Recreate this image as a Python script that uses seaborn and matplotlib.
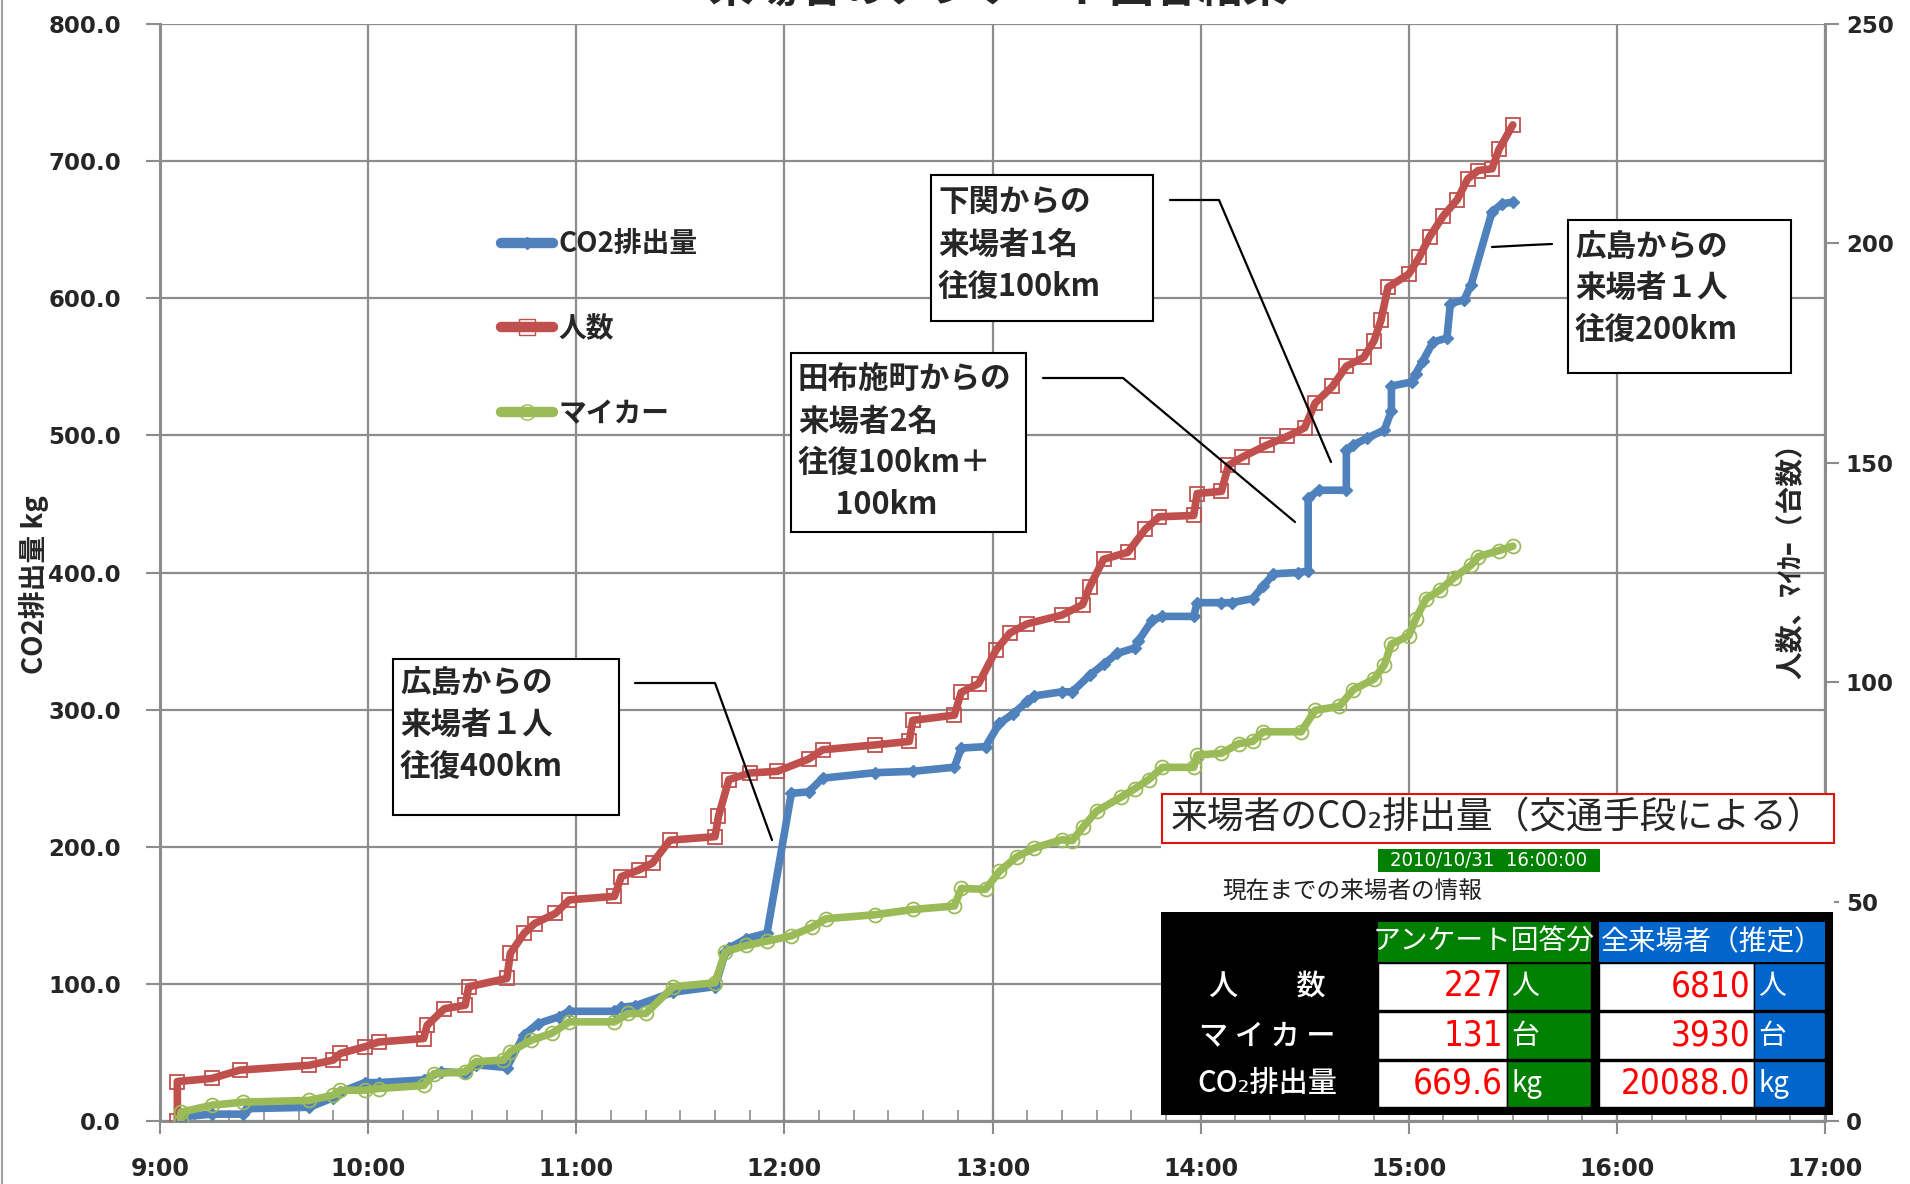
import matplotlib
matplotlib.use('Agg')
import matplotlib.pyplot as plt
import seaborn as sns
import pandas as pd
from matplotlib.patches import Rectangle
from matplotlib.lines import Line2D
from matplotlib.ticker import MultipleLocator

# --- data ---
co2_time = ['9:06', '9:06', '9:15', '9:24', '9:25', '9:43', '9:50', '9:52', '9:59', '10:03',
            '10:16', '10:21', '10:28', '10:31', '10:40', '10:45', '10:49', '10:55', '10:58', '11:11',
            '11:13', '11:17', '11:28', '11:40', '11:43', '11:44', '11:49', '11:55', '12:02', '12:07',
            '12:11', '12:26', '12:37', '12:49', '12:51', '12:58', '13:02', '13:06', '13:10', '13:12',
            '13:20', '13:23', '13:28', '13:32', '13:36', '13:41', '13:42', '13:46', '13:49', '13:58',
            '13:59', '14:06', '14:09', '14:15', '14:18', '14:21', '14:28', '14:31', '14:31', '14:34',
            '14:42', '14:42', '14:44', '14:48', '14:53', '14:55', '14:55', '15:01', '15:02', '15:04',
            '15:07', '15:11', '15:12', '15:16', '15:18', '15:24', '15:27', '15:30']
co2_kg = [0, 3, 5, 5, 9, 10, 17, 21, 28, 28,
          30, 36, 35, 41, 39, 63, 71, 76, 80, 80,
          83, 84, 94, 98, 123, 126, 133, 137, 239, 240,
          250, 254, 255, 258, 272, 273, 290, 297, 306, 310,
          313, 313, 325, 333, 341, 345, 350, 365, 368, 368,
          378, 378, 378, 381, 390, 399, 400, 401, 454, 460,
          460, 489, 493, 498, 504, 518, 536, 539, 545, 554,
          568, 571, 596, 599, 610, 663, 669, 670]

people_time = ['9:05', '9:05', '9:15', '9:23', '9:43', '9:50', '9:52', '9:59', '10:03', '10:16',
               '10:17', '10:22', '10:28', '10:29', '10:40', '10:41', '10:45', '10:48', '10:54', '10:58',
               '11:11', '11:13', '11:18', '11:22', '11:27', '11:40', '11:41', '11:44', '11:50', '11:58',
               '12:07', '12:11', '12:26', '12:36', '12:37', '12:49', '12:51', '12:56', '13:01', '13:05',
               '13:10', '13:20', '13:26', '13:28', '13:32', '13:39', '13:44', '13:48', '13:58', '13:59',
               '14:06', '14:08', '14:12', '14:19', '14:25', '14:30', '14:33', '14:38', '14:42', '14:47',
               '14:50', '14:52', '14:54', '15:00', '15:03', '15:06', '15:10', '15:14', '15:17', '15:20',
               '15:24', '15:26', '15:30']
people_count = [0, 9, 9.7, 11.6, 12.7, 13.9, 15.4, 16.9, 18, 18.8,
                21.8, 25.6, 26.4, 30.6, 32.5, 38.2, 42.8, 45, 47.3, 50.4,
                51.2, 55.7, 57.2, 58.8, 64, 64.8, 69.4, 77.8, 79.3, 79.7,
                82.5, 84.6, 85.7, 86.5, 91.3, 92.5, 97.7, 99.7, 107.3, 111.2,
                113.3, 115.3, 117.7, 121.7, 128, 129.6, 134.8, 137.7, 138, 143,
                143.5, 149.4, 151.3, 154, 156, 158, 163.6, 167.4, 172, 174,
                177.8, 182.5, 190, 193, 196.8, 201.5, 206.3, 210, 214.7, 216.6,
                217, 221.4, 227]

car_time = ['9:06', '9:06', '9:15', '9:24', '9:43', '9:50', '9:52', '9:59', '10:03', '10:16',
            '10:19', '10:28', '10:31', '10:39', '10:41', '10:47', '10:53', '10:58', '11:11', '11:15',
            '11:20', '11:28', '11:40', '11:43', '11:49', '11:55', '12:02', '12:08', '12:12', '12:26',
            '12:37', '12:49', '12:51', '12:58', '13:02', '13:07', '13:12', '13:20', '13:23', '13:26',
            '13:30', '13:37', '13:41', '13:45', '13:49', '13:58', '13:59', '14:06', '14:11', '14:15',
            '14:18', '14:29', '14:33', '14:40', '14:44', '14:50', '14:53', '14:55', '15:00', '15:02',
            '15:05', '15:09', '15:13', '15:18', '15:20', '15:26', '15:30']
car_count = [0, 2, 3.6, 4.3, 4.7, 5.9, 7, 7, 7.4, 8.1,
             10.8, 11.2, 13.5, 13.9, 15.8, 18.4, 20, 22.6, 22.6, 24.5,
             24.5, 30.6, 31.5, 38.6, 40, 41, 42.2, 44.2, 46.1, 47,
             48.2, 49, 53, 52.8, 56.9, 60.2, 62.2, 64.1, 63.9, 66.9,
             70.6, 73.8, 75.7, 77.8, 80.6, 80.6, 83.4, 83.8, 86, 86.5,
             88.7, 88.7, 93.6, 94.5, 98.3, 100.7, 104, 108.7, 110.6, 114.4,
             119, 121, 123.8, 126.7, 128.6, 130, 131]

hour_ticks = list(range(9, 18))
series_names = ['CO2排出量', '人数', 'マイカー']

# summary table
table_rows = ['人　　数', 'マ イ カ ー', 'CO₂排出量']
table_units = ['人', '台', 'kg']
survey_values = ['227', '131', '669.6']
estimate_values = ['6810', '3930', '20088.0']
table_date = '2010/10/31  16:00:00'

blue = '#4F81BD'
red = '#C0504D'
green = '#9BBB59'
grid_gray = '#8c8c8c'

W, H = 1910, 1184


def to_hours(t):
    h, m = t.split(':')
    return int(h) + int(m) / 60


def fx(px):
    return px / W


def fy(py):
    return 1 - py / H


df_co2 = pd.DataFrame({'hours': [to_hours(t) for t in co2_time], 'value': co2_kg})
df_people = pd.DataFrame({'hours': [to_hours(t) for t in people_time], 'value': people_count})
df_car = pd.DataFrame({'hours': [to_hours(t) for t in car_time], 'value': car_count})

sns.set_style('white')
plt.rcParams['font.family'] = ['Noto Sans CJK JP', 'DejaVu Sans']

fig = plt.figure(figsize=(W / 100, H / 100), dpi=100)
ax = fig.add_axes([fx(160), fy(1121), (1825 - 160) / W, (1121 - 24) / H])
ax2 = ax.twinx()

# --- series ---
sns.lineplot(data=df_co2, x='hours', y='value', ax=ax, sort=False, estimator=None,
             color=blue, linewidth=5.5, marker='D', markersize=6,
             markerfacecolor=blue, markeredgecolor=blue, markeredgewidth=1, zorder=3)
sns.lineplot(data=df_people, x='hours', y='value', ax=ax2, sort=False, estimator=None,
             color=red, linewidth=5.5, marker='s', markersize=10,
             markerfacecolor='none', markeredgecolor=red, markeredgewidth=1.3, zorder=3)
sns.lineplot(data=df_car, x='hours', y='value', ax=ax2, sort=False, estimator=None,
             color=green, linewidth=5.5, marker='o', markersize=10,
             markerfacecolor='none', markeredgecolor=green, markeredgewidth=1.3, zorder=3)

# --- axes ---
ax.set_xlim(9, 17)
ax.set_ylim(0, 800)
ax2.set_ylim(0, 250)
ax.set_xlabel('')
ax.set_ylabel('')
ax2.set_ylabel('')

ax.set_xticks(hour_ticks)
ax.set_xticklabels([f'{h}:00' for h in hour_ticks])
ax.xaxis.set_minor_locator(MultipleLocator(1 / 6))
ax.set_yticks(range(0, 801, 100))
ax.set_yticklabels([f'{v:.1f}' for v in range(0, 801, 100)])
ax2.set_yticks(range(0, 251, 50))

ax.grid(True, color=grid_gray, linewidth=1.6)
ax.set_axisbelow(True)
ax2.grid(False)

for s in ['top', 'right']:
    ax.spines[s].set_visible(False)
for s in ['left', 'bottom']:
    ax.spines[s].set_color(grid_gray)
    ax.spines[s].set_linewidth(2.2)
for s in ['top', 'left', 'bottom']:
    ax2.spines[s].set_visible(False)
ax2.spines['right'].set_color(grid_gray)
ax2.spines['right'].set_linewidth(2.2)

ax.tick_params(axis='y', direction='out', length=10, width=1.5, color=grid_gray, pad=18,
               labelsize=16.5, left=True)
ax.tick_params(axis='x', which='major', direction='inout', length=18, width=1.5,
               color=grid_gray, pad=17, labelsize=17, bottom=True)
ax.tick_params(axis='x', which='minor', direction='in', length=8, width=1.2,
               color=grid_gray, bottom=True)
ax2.tick_params(axis='y', direction='out', length=10, width=1.5, color=grid_gray, pad=5,
                labelsize=16.5, right=True)
for lab in ax.get_xticklabels() + ax.get_yticklabels() + ax2.get_yticklabels():
    lab.set_fontweight('bold')
    lab.set_family('DejaVu Sans')

# axis titles
fig.text(fx(34), fy(585), 'CO2排出量 kg', rotation=90, ha='center', va='center',
         fontsize=20, fontweight='bold')
fig.text(fx(1792), fy(554), '人数、ﾏｲｶｰ（台数）', rotation=90, ha='center', va='center',
         fontsize=20, fontweight='bold')

# chart title, clipped at the top edge as in the original
fig.text(fx(998), fy(-11), '来場者のアンケート回答結果', ha='center', va='center',
         fontsize=32, fontweight='bold')
fig.add_artist(Line2D([fx(2), fx(2)], [0, 1], color='#a0a0a0', linewidth=1.5,
                      transform=fig.transFigure))

# legend
handles = [
    Line2D([], [], color=blue, lw=7.5, marker='D', ms=6, mfc=blue, mec=blue),
    Line2D([], [], color=red, lw=7.5, marker='s', ms=11, mfc='none', mec=red),
    Line2D([], [], color=green, lw=7.5, marker='o', ms=11, mfc='none', mec=green),
]
ax.legend(handles, series_names, loc='upper left', bbox_to_anchor=(0.205, 0.812),
          frameon=False, prop={'size': 20, 'weight': 'bold'}, handlelength=1.85,
          handletextpad=0.2, labelspacing=2.05, borderaxespad=0, borderpad=0, numpoints=1)


# --- callout boxes ---
def rect(x0, y0, x1, y1, face='white', edge='black', lw=1.5, z=5):
    fig.add_artist(Rectangle((fx(x0), fy(y1)), (x1 - x0) / W, (y1 - y0) / H,
                             transform=fig.transFigure, facecolor=face,
                             edgecolor=edge, linewidth=lw, zorder=z))


def polyline(points):
    fig.add_artist(Line2D([fx(p[0]) for p in points], [fy(p[1]) for p in points],
                          color='black', linewidth=1.6, transform=fig.transFigure, zorder=6))


callouts = [
    ((393, 659, 619, 815), 400, [683, 725, 767], ['広島からの', '来場者１人', '往復400km'],
     [(635, 683), (715, 683), (772, 840)]),
    ((791, 353, 1026, 532), 798, [380, 422, 463, 505],
     ['田布施町からの', '来場者2名', '往復100km＋', '　 100km'],
     [(1043, 378), (1123, 378), (1295, 522)]),
    ((931, 175, 1153, 321), 938, [202, 245, 287], ['下関からの', '来場者1名', '往復100km'],
     [(1170, 200), (1219, 200), (1331, 462)]),
    ((1568, 220, 1791, 373), 1575, [247, 288, 330], ['広島からの', '来場者１人', '往復200km'],
     [(1552, 244), (1530, 245), (1492, 247)]),
]
for box, tx, tys, lines, leader in callouts:
    rect(*box)
    for ty, s in zip(tys, lines):
        fig.text(fx(tx), fy(ty), s, ha='left', va='center', fontsize=22,
                 fontweight='bold', zorder=7)
    polyline(leader)

# --- summary table ---
rect(1161, 794, 1834, 1115, face='white', edge='none', lw=0, z=5)
rect(1162, 794, 1834, 843, face='white', edge='#e01010', lw=1.5, z=6)
fig.text(fx(1497), fy(818), '来場者のCO₂排出量（交通手段による）', ha='center', va='center',
         fontsize=26.5, zorder=7)
rect(1378, 849, 1600, 872, face='#008000', edge='none', lw=0, z=6)
fig.text(fx(1489), fy(861), table_date, ha='center', va='center', fontsize=14.5,
         color='white', family='DejaVu Sans', fontstretch='condensed', zorder=7)
fig.text(fx(1222), fy(892), '現在までの来場者の情報', ha='left', va='center', fontsize=17,
         color='#222222', zorder=7)
rect(1161, 912, 1833, 1115, face='black', edge='none', lw=0, z=6)
rect(1378, 922, 1591, 962, face='#008000', edge='none', lw=0, z=7)
rect(1599, 922, 1825, 962, face='#0066cc', edge='none', lw=0, z=7)
fig.text(fx(1484), fy(942), 'アンケート回答分', ha='center', va='center', fontsize=20,
         color='white', zorder=8)
fig.text(fx(1712), fy(942), '全来場者（推定）', ha='center', va='center', fontsize=20,
         color='white', zorder=8)

row_bounds = [(962, 1011), (1011, 1060), (1060, 1108)]
for (r0, r1), name, unit, v1, v2 in zip(row_bounds, table_rows, table_units,
                                         survey_values, estimate_values):
    rect(1378, r0 + 1, 1507, r1 - 1, face='white', edge='black', lw=1, z=7)
    rect(1507, r0 + 1, 1591, r1 - 1, face='#008000', edge='black', lw=1, z=7)
    rect(1599, r0 + 1, 1754, r1 - 1, face='white', edge='black', lw=1, z=7)
    rect(1754, r0 + 1, 1825, r1 - 1, face='#0066cc', edge='black', lw=1, z=7)
    ym = (r0 + r1) / 2
    fig.text(fx(1267), fy(ym), name, ha='center', va='center', fontsize=21,
             color='white', fontweight='medium', zorder=8)
    fig.text(fx(1503), fy(ym), v1, ha='right', va='center', fontsize=25, color='#ff0000',
             family='DejaVu Sans', fontstretch='condensed', zorder=8)
    fig.text(fx(1750), fy(ym), v2, ha='right', va='center', fontsize=25, color='#ff0000',
             family='DejaVu Sans', fontstretch='condensed', zorder=8)
    fig.text(fx(1511), fy(ym), unit, ha='left', va='center', fontsize=20,
             color='white', zorder=8)
    fig.text(fx(1758), fy(ym), unit, ha='left', va='center', fontsize=20,
             color='white', zorder=8)

fig.savefig('out.png', dpi=100)
